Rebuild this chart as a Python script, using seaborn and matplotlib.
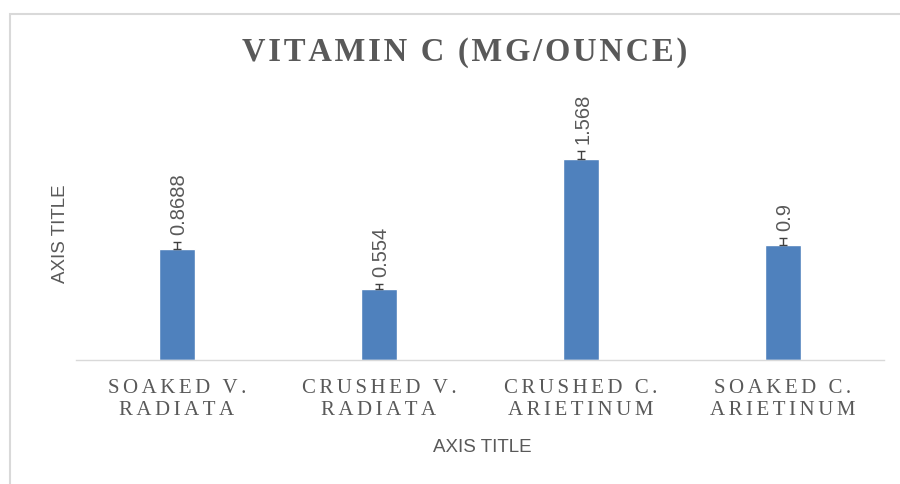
import matplotlib
matplotlib.use("Agg")
import matplotlib.pyplot as plt
import seaborn as sns
import pandas as pd
from matplotlib.patches import Rectangle

categories = ["SOAKED V.\nRADIATA", "CRUSHED V.\nRADIATA", "CRUSHED C.\nARIETINUM", "SOAKED C.\nARIETINUM"]
values = [0.8688, 0.554, 1.568, 0.9]
errors = [0.055, 0.04, 0.063, 0.05]
value_labels = ["0.8688", "0.554", "1.568", "0.9"]
title = "VITAMIN C (MG/OUNCE)"

def spaced(s, sp):
    return "\n".join(sp.join(list(line)) for line in s.split("\n"))

sns.set_theme(style="white")
plt.rcParams['font.family'] = ['Liberation Sans', 'DejaVu Sans']

GREY = "#595959"
BLUE = "#4F81BD"

fig = plt.figure(figsize=(9, 4.84), dpi=100)
ax = fig.add_axes([76/900, 1-360/484, 808/900, 256.5/484])

df = pd.DataFrame({"cat": categories, "val": values})
sns.barplot(data=df, x="cat", y="val", color=BLUE, width=0.18, errorbar=None, ax=ax, saturation=1)

xs = list(range(len(values)))
ax.errorbar(xs, values, yerr=[[0]*len(errors), errors], fmt="none",
            ecolor="#404040", elinewidth=1, capsize=3, capthick=1)

for x, v, e, lab in zip(xs, values, errors, value_labels):
    ax.annotate(lab, (x, v + e), xytext=(0, 5), textcoords="offset points",
                rotation=90, rotation_mode="anchor", ha="left", va="center_baseline",
                fontsize=14.5, color=GREY, family=['Liberation Sans', 'DejaVu Sans'])

ax.set_ylim(0, 2.0)
ax.set_xlim(-0.5, 3.5)
ax.set_yticks([])
for s in ["top", "right", "left"]:
    ax.spines[s].set_visible(False)
ax.spines["bottom"].set_color("#D9D9D9")
ax.spines["bottom"].set_linewidth(1)
ax.set_xticks(xs)
ax.set_xticklabels([spaced(c, "\u2006") for c in categories], family=['Liberation Serif', 'DejaVu Serif'],
                   fontsize=15, color=GREY, linespacing=1.2)
ax.tick_params(axis="x", length=0, pad=14)

ax.set_xlabel("AXIS TITLE", fontsize=13.5, color=GREY, family=['Liberation Sans', 'DejaVu Sans'])
ax.set_ylabel("AXIS TITLE", fontsize=13.5, color=GREY, family=['Liberation Sans', 'DejaVu Sans'])
ax.xaxis.set_label_coords((482-76)/808, (360-439)/256.5)
ax.yaxis.set_label_coords((69-76)/808, (360-234)/256.5)

fig.text(465/900, 1-52/484, spaced(title, "\u200a"), ha="center", va="center", fontsize=23.5,
         fontweight="bold", color=GREY, family=['Liberation Serif', 'DejaVu Serif'])

fig.patches.append(Rectangle((10/900, -0.1), 2, 1-14/484+0.1, transform=fig.transFigure,
                             fill=False, edgecolor="#D9D9D9", linewidth=1.5))

fig.savefig("out.png", dpi=100)
